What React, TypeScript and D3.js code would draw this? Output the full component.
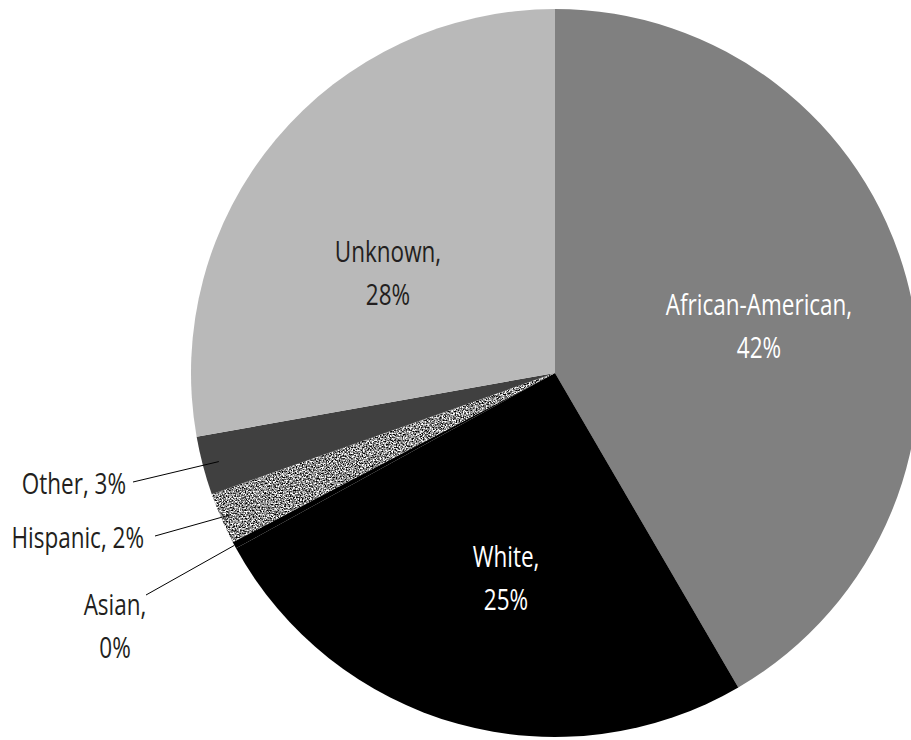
import React from "react";
import * as d3 from "d3";

// ---- data ----
const categories = ["African-American", "White", "Asian", "Hispanic", "Other", "Unknown"];
const shares = [41.6, 25.4, 0.3, 2.3, 2.6, 27.8];
const percentLabels = ["42%", "25%", "0%", "2%", "3%", "28%"];

// ---- styles ----
const fills: Record<string, string> = {
  "African-American": "#808080",
  White: "#000000",
  Asian: "#000000",
  Hispanic: "url(#speckleFill)",
  Other: "#404040",
  Unknown: "#b9b9b9",
};

const W = 911;
const H = 740;
const CX = 555;
const CY = 373;
const R = 364;
const SX = 0.75; // horizontal condensing of the label font

// label layout (offsets relative to pie centre)
type Layout = {
  inside: boolean;
  twoLines: boolean;
  dx: number;
  dy: number;
  anchor: "start" | "middle" | "end";
  color: string;
  leaderK?: number;
  leaderDx?: number;
  leaderDy?: number;
};
const layouts: Record<string, Layout> = {
  "African-American": { inside: true, twoLines: true, dx: 204, dy: -58, anchor: "middle", color: "#ffffff" },
  White: { inside: true, twoLines: true, dx: -49, dy: 194, anchor: "middle", color: "#ffffff" },
  Unknown: { inside: true, twoLines: true, dx: -167, dy: -111, anchor: "middle", color: "#231f20" },
  Other: { inside: false, twoLines: false, dx: -429, dy: 121, anchor: "end", color: "#231f20", leaderK: 0.955, leaderDx: -422, leaderDy: 109 },
  Hispanic: { inside: false, twoLines: false, dx: -411, dy: 175, anchor: "end", color: "#231f20", leaderK: 0.975, leaderDx: -400, leaderDy: 163 },
  Asian: { inside: false, twoLines: true, dx: -440, dy: 242, anchor: "middle", color: "#231f20", leaderK: 1.0, leaderDx: -409, leaderDy: 222 },
};

export default function App() {
  const data = categories.map((c, i) => ({ name: c, value: shares[i], pct: percentLabels[i] }));
  const pie = d3
    .pie<{ name: string; value: number; pct: string }>()
    .sort(null)
    .value((d) => d.value)
    .startAngle(0)
    .endAngle(2 * Math.PI);
  const arcs = pie(data);
  const arc = d3.arc<d3.PieArcDatum<any>>().innerRadius(0).outerRadius(R);

  const polar = (angle: number, r: number) => [Math.sin(angle) * r, -Math.cos(angle) * r];

  return (
    <svg
      width={W}
      height={H}
      style={{ position: "absolute", left: 0, top: 0, background: "#ffffff" }}
    >
      <defs>
        <filter id="speckle" x="0" y="0" width="1" height="1" colorInterpolationFilters="sRGB">
          <feTurbulence type="fractalNoise" baseFrequency="0.7" numOctaves="2" seed="7" result="noise" />
          <feColorMatrix
            in="noise"
            type="matrix"
            values="2.6 0 0 0 -0.75  2.6 0 0 0 -0.75  2.6 0 0 0 -0.75  0 0 0 0 1"
          />
        </filter>
        <pattern id="speckleFill" patternUnits="userSpaceOnUse" width="200" height="200">
          <rect width="200" height="200" fill="#8a8a8a" filter="url(#speckle)" />
        </pattern>
      </defs>
      <rect width={W} height={H} fill="#ffffff" />
      <g transform={`translate(${CX},${CY})`}>
        {arcs.map((a) => (
          <path key={a.data.name} d={arc(a) || ""} fill={fills[a.data.name]} />
        ))}
        {arcs.map((a) => {
          const L = layouts[a.data.name];
          if (L.inside || L.leaderK === undefined) return null;
          const mid = (a.startAngle + a.endAngle) / 2;
          const [x1, y1] = polar(mid, R * L.leaderK);
          return (
            <line
              key={"l-" + a.data.name}
              x1={x1}
              y1={y1}
              x2={L.leaderDx}
              y2={L.leaderDy}
              stroke="#000000"
              strokeWidth={1}
            />
          );
        })}
        {arcs.map((a) => {
          const L = layouts[a.data.name];
          const name = a.data.name;
          return (
            <text
              key={"t-" + name}
              transform={`translate(${L.dx},${L.dy}) scale(${SX},1)`}
              textAnchor={L.anchor}
              fontFamily="'Open Sans', 'Noto Sans', sans-serif"
              fontSize={30}
              fill={L.color}
            >
              {L.twoLines ? (
                <>
                  <tspan x={0} dy={0}>{name + ","}</tspan>
                  <tspan x={0} dy={43}>{a.data.pct}</tspan>
                </>
              ) : (
                <tspan x={0}>{name + ", " + a.data.pct}</tspan>
              )}
            </text>
          );
        })}
      </g>
    </svg>
  );
}
